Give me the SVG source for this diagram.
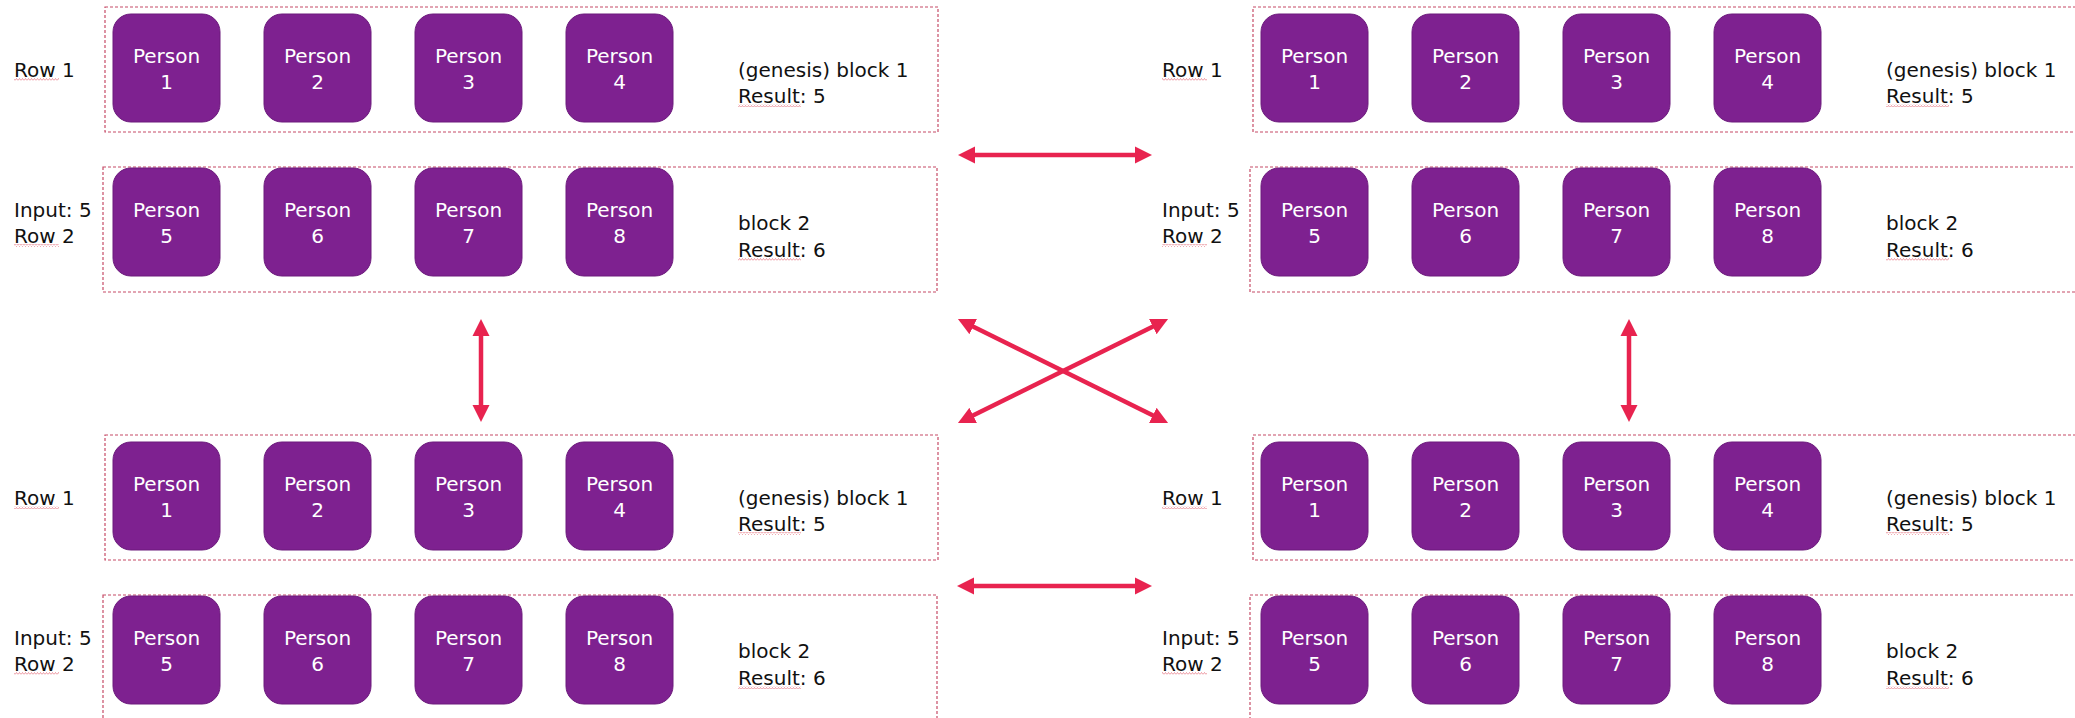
<svg xmlns="http://www.w3.org/2000/svg" width="2075" height="718" viewBox="0 0 2075 718">
<style>
.frame{fill:none;stroke:#C64B67;stroke-width:1.2;stroke-dasharray:3 2}
.person{fill:#7E2190;stroke:#6C1A7C;stroke-width:1}
.pt{font-family:"DejaVu Sans","Liberation Sans",sans-serif;font-size:20px;fill:#ffffff;text-anchor:middle}
.lbl{font-family:"DejaVu Sans","Liberation Sans",sans-serif;font-size:20px;fill:#111111}
.conn{stroke:#E8234F;stroke-width:4.5;fill:none;marker-start:url(#ah);marker-end:url(#ah)}
.sq{fill:url(#squig)}
</style>
<defs>
<marker id="ah" markerUnits="userSpaceOnUse" markerWidth="18" markerHeight="18" viewBox="0 0 18 18" refX="2" refY="9" orient="auto-start-reverse">
<path d="M0,0.5 L17,9 L0,17.5 z" fill="#E8234F"/>
</marker>
<pattern id="squig" width="3" height="3" patternUnits="userSpaceOnUse">
<path d="M0,2.5 L1.5,0.5 L3,2.5" fill="none" stroke="#E05A6A" stroke-width="0.6"/>
</pattern>
</defs>

<!-- Top-left chain -->
<g id="chain-tl">
<g id="tl-block1">
<rect class="frame" x="105" y="7" width="833" height="125"/>
<text class="lbl" x="14" y="77">Row 1</text>
<rect class="sq" x="14" y="78" width="45" height="3"/>
<g id="tl-p1"><rect class="person" x="113" y="14" width="107" height="108" rx="18"/><text class="pt" x="166.5" y="63">Person</text><text class="pt" x="166.5" y="89">1</text></g>
<g id="tl-p2"><rect class="person" x="264" y="14" width="107" height="108" rx="18"/><text class="pt" x="317.5" y="63">Person</text><text class="pt" x="317.5" y="89">2</text></g>
<g id="tl-p3"><rect class="person" x="415" y="14" width="107" height="108" rx="18"/><text class="pt" x="468.5" y="63">Person</text><text class="pt" x="468.5" y="89">3</text></g>
<g id="tl-p4"><rect class="person" x="566" y="14" width="107" height="108" rx="18"/><text class="pt" x="619.5" y="63">Person</text><text class="pt" x="619.5" y="89">4</text></g>
<text class="lbl" x="738" y="77">(genesis) block 1</text>
<text class="lbl" x="738" y="103">Result: 5</text>
<rect class="sq" x="738" y="104" width="63" height="3"/>
</g>
<g id="tl-block2">
<rect class="frame" x="103" y="167" width="834" height="125"/>
<text class="lbl" x="14" y="217">Input: 5</text>
<text class="lbl" x="14" y="243">Row 2</text>
<rect class="sq" x="14" y="244" width="45" height="3"/>
<g id="tl-p5"><rect class="person" x="113" y="168" width="107" height="108" rx="18"/><text class="pt" x="166.5" y="217">Person</text><text class="pt" x="166.5" y="243">5</text></g>
<g id="tl-p6"><rect class="person" x="264" y="168" width="107" height="108" rx="18"/><text class="pt" x="317.5" y="217">Person</text><text class="pt" x="317.5" y="243">6</text></g>
<g id="tl-p7"><rect class="person" x="415" y="168" width="107" height="108" rx="18"/><text class="pt" x="468.5" y="217">Person</text><text class="pt" x="468.5" y="243">7</text></g>
<g id="tl-p8"><rect class="person" x="566" y="168" width="107" height="108" rx="18"/><text class="pt" x="619.5" y="217">Person</text><text class="pt" x="619.5" y="243">8</text></g>
<text class="lbl" x="738" y="230">block 2</text>
<text class="lbl" x="738" y="257">Result: 6</text>
<rect class="sq" x="738" y="258" width="63" height="3"/>
</g>
</g>

<!-- Top-right chain -->
<g id="chain-tr">
<g id="tr-block1">
<rect class="frame" x="1253" y="7" width="840" height="125"/>
<text class="lbl" x="1162" y="77">Row 1</text>
<rect class="sq" x="1162" y="78" width="45" height="3"/>
<g id="tr-p1"><rect class="person" x="1261" y="14" width="107" height="108" rx="18"/><text class="pt" x="1314.5" y="63">Person</text><text class="pt" x="1314.5" y="89">1</text></g>
<g id="tr-p2"><rect class="person" x="1412" y="14" width="107" height="108" rx="18"/><text class="pt" x="1465.5" y="63">Person</text><text class="pt" x="1465.5" y="89">2</text></g>
<g id="tr-p3"><rect class="person" x="1563" y="14" width="107" height="108" rx="18"/><text class="pt" x="1616.5" y="63">Person</text><text class="pt" x="1616.5" y="89">3</text></g>
<g id="tr-p4"><rect class="person" x="1714" y="14" width="107" height="108" rx="18"/><text class="pt" x="1767.5" y="63">Person</text><text class="pt" x="1767.5" y="89">4</text></g>
<text class="lbl" x="1886" y="77">(genesis) block 1</text>
<text class="lbl" x="1886" y="103">Result: 5</text>
<rect class="sq" x="1886" y="104" width="63" height="3"/>
</g>
<g id="tr-block2">
<rect class="frame" x="1250" y="167" width="840" height="125"/>
<text class="lbl" x="1162" y="217">Input: 5</text>
<text class="lbl" x="1162" y="243">Row 2</text>
<rect class="sq" x="1162" y="244" width="45" height="3"/>
<g id="tr-p5"><rect class="person" x="1261" y="168" width="107" height="108" rx="18"/><text class="pt" x="1314.5" y="217">Person</text><text class="pt" x="1314.5" y="243">5</text></g>
<g id="tr-p6"><rect class="person" x="1412" y="168" width="107" height="108" rx="18"/><text class="pt" x="1465.5" y="217">Person</text><text class="pt" x="1465.5" y="243">6</text></g>
<g id="tr-p7"><rect class="person" x="1563" y="168" width="107" height="108" rx="18"/><text class="pt" x="1616.5" y="217">Person</text><text class="pt" x="1616.5" y="243">7</text></g>
<g id="tr-p8"><rect class="person" x="1714" y="168" width="107" height="108" rx="18"/><text class="pt" x="1767.5" y="217">Person</text><text class="pt" x="1767.5" y="243">8</text></g>
<text class="lbl" x="1886" y="230">block 2</text>
<text class="lbl" x="1886" y="257">Result: 6</text>
<rect class="sq" x="1886" y="258" width="63" height="3"/>
</g>
</g>

<!-- Bottom-left chain -->
<g id="chain-bl">
<g id="bl-block1">
<rect class="frame" x="105" y="435" width="833" height="125"/>
<text class="lbl" x="14" y="505">Row 1</text>
<rect class="sq" x="14" y="506" width="45" height="3"/>
<g id="bl-p1"><rect class="person" x="113" y="442" width="107" height="108" rx="18"/><text class="pt" x="166.5" y="491">Person</text><text class="pt" x="166.5" y="517">1</text></g>
<g id="bl-p2"><rect class="person" x="264" y="442" width="107" height="108" rx="18"/><text class="pt" x="317.5" y="491">Person</text><text class="pt" x="317.5" y="517">2</text></g>
<g id="bl-p3"><rect class="person" x="415" y="442" width="107" height="108" rx="18"/><text class="pt" x="468.5" y="491">Person</text><text class="pt" x="468.5" y="517">3</text></g>
<g id="bl-p4"><rect class="person" x="566" y="442" width="107" height="108" rx="18"/><text class="pt" x="619.5" y="491">Person</text><text class="pt" x="619.5" y="517">4</text></g>
<text class="lbl" x="738" y="505">(genesis) block 1</text>
<text class="lbl" x="738" y="531">Result: 5</text>
<rect class="sq" x="738" y="532" width="63" height="3"/>
</g>
<g id="bl-block2">
<rect class="frame" x="103" y="595" width="834" height="130"/>
<text class="lbl" x="14" y="645">Input: 5</text>
<text class="lbl" x="14" y="671">Row 2</text>
<rect class="sq" x="14" y="672" width="45" height="3"/>
<g id="bl-p5"><rect class="person" x="113" y="596" width="107" height="108" rx="18"/><text class="pt" x="166.5" y="645">Person</text><text class="pt" x="166.5" y="671">5</text></g>
<g id="bl-p6"><rect class="person" x="264" y="596" width="107" height="108" rx="18"/><text class="pt" x="317.5" y="645">Person</text><text class="pt" x="317.5" y="671">6</text></g>
<g id="bl-p7"><rect class="person" x="415" y="596" width="107" height="108" rx="18"/><text class="pt" x="468.5" y="645">Person</text><text class="pt" x="468.5" y="671">7</text></g>
<g id="bl-p8"><rect class="person" x="566" y="596" width="107" height="108" rx="18"/><text class="pt" x="619.5" y="645">Person</text><text class="pt" x="619.5" y="671">8</text></g>
<text class="lbl" x="738" y="658">block 2</text>
<text class="lbl" x="738" y="685">Result: 6</text>
<rect class="sq" x="738" y="686" width="63" height="3"/>
</g>
</g>

<!-- Bottom-right chain -->
<g id="chain-br">
<g id="br-block1">
<rect class="frame" x="1253" y="435" width="840" height="125"/>
<text class="lbl" x="1162" y="505">Row 1</text>
<rect class="sq" x="1162" y="506" width="45" height="3"/>
<g id="br-p1"><rect class="person" x="1261" y="442" width="107" height="108" rx="18"/><text class="pt" x="1314.5" y="491">Person</text><text class="pt" x="1314.5" y="517">1</text></g>
<g id="br-p2"><rect class="person" x="1412" y="442" width="107" height="108" rx="18"/><text class="pt" x="1465.5" y="491">Person</text><text class="pt" x="1465.5" y="517">2</text></g>
<g id="br-p3"><rect class="person" x="1563" y="442" width="107" height="108" rx="18"/><text class="pt" x="1616.5" y="491">Person</text><text class="pt" x="1616.5" y="517">3</text></g>
<g id="br-p4"><rect class="person" x="1714" y="442" width="107" height="108" rx="18"/><text class="pt" x="1767.5" y="491">Person</text><text class="pt" x="1767.5" y="517">4</text></g>
<text class="lbl" x="1886" y="505">(genesis) block 1</text>
<text class="lbl" x="1886" y="531">Result: 5</text>
<rect class="sq" x="1886" y="532" width="63" height="3"/>
</g>
<g id="br-block2">
<rect class="frame" x="1250" y="595" width="840" height="130"/>
<text class="lbl" x="1162" y="645">Input: 5</text>
<text class="lbl" x="1162" y="671">Row 2</text>
<rect class="sq" x="1162" y="672" width="45" height="3"/>
<g id="br-p5"><rect class="person" x="1261" y="596" width="107" height="108" rx="18"/><text class="pt" x="1314.5" y="645">Person</text><text class="pt" x="1314.5" y="671">5</text></g>
<g id="br-p6"><rect class="person" x="1412" y="596" width="107" height="108" rx="18"/><text class="pt" x="1465.5" y="645">Person</text><text class="pt" x="1465.5" y="671">6</text></g>
<g id="br-p7"><rect class="person" x="1563" y="596" width="107" height="108" rx="18"/><text class="pt" x="1616.5" y="645">Person</text><text class="pt" x="1616.5" y="671">7</text></g>
<g id="br-p8"><rect class="person" x="1714" y="596" width="107" height="108" rx="18"/><text class="pt" x="1767.5" y="645">Person</text><text class="pt" x="1767.5" y="671">8</text></g>
<text class="lbl" x="1886" y="658">block 2</text>
<text class="lbl" x="1886" y="685">Result: 6</text>
<rect class="sq" x="1886" y="686" width="63" height="3"/>
</g>
</g>

<g id="connectors">
<line class="conn" x1="973" y1="155" x2="1137" y2="155"/>
<line class="conn" x1="972" y1="586" x2="1137" y2="586"/>
<line class="conn" x1="481" y1="334" x2="481" y2="407"/>
<line class="conn" x1="1629" y1="334" x2="1629" y2="407"/>
<line class="conn" x1="971.4" y1="325.7" x2="1154.6" y2="416.3"/>
<line class="conn" x1="1154.6" y1="325.7" x2="971.4" y2="416.3"/>
</g>
</svg>
